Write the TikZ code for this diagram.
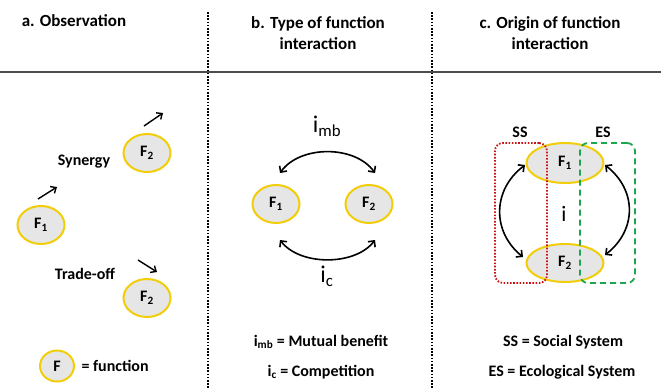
\documentclass[tikz,border=0pt]{standalone}
\usepackage{fontspec}
\setmainfont{Carlito}
\usetikzlibrary{shapes.geometric,arrows.meta}
\definecolor{fyellow}{RGB}{242,206,10}
\definecolor{ffill}{RGB}{230,230,230}
\definecolor{ssred}{RGB}{205,20,20}
\definecolor{esgreen}{RGB}{30,165,80}
\tikzset{
  fn/.style={ellipse, draw=fyellow, fill=ffill, line width=2pt, inner sep=0pt,
    minimum width=47pt, minimum height=38pt, font=\fontsize{16}{18}\selectfont\bfseries},
  title/.style={font=\fontsize{17}{21}\selectfont\bfseries, align=center},
  lbl/.style={font=\fontsize{16}{19}\selectfont\bfseries},
  big/.style={font=\fontsize{24}{26}\selectfont},
  sep/.style={line width=1.7pt, dash pattern=on 1.6pt off 1.6pt},
  arr/.style={line width=1.4pt, -{Straight Barb[length=4.5pt,width=8pt]}},
  darr/.style={line width=1.6pt, {Straight Barb[length=4.5pt,width=9pt]}-{Straight Barb[length=4.5pt,width=9pt]}},
  sysbox/.style={rounded corners=8pt, line width=1.8pt, minimum width=52pt, minimum height=140pt, inner sep=0pt}
}
\begin{document}
\begin{tikzpicture}[x=1pt,y=-1pt]
\useasboundingbox (0,0) rectangle (661,389);
% headers
\node[title] (ta) at (74,21) {a. Observation};
\node[title] (tb) at (318,33) {b. Type of function\\interaction};
\node[title] (tc) at (550,33) {c. Origin of function\\interaction};
\draw[line width=1.2pt, black!70] (0,72) coordinate (hl) -- (661,72) coordinate (hr);
\draw[sep] (208,12) coordinate (s1t) -- (208,389) coordinate (s1b);
\draw[sep] (432,12) coordinate (s2t) -- (432,389) coordinate (s2b);
% panel a
\node[fn] (aF2t) at (147,153) {F\textsubscript{2}};
\node[fn] (aF1) at (41,225) {F\textsubscript{1}};
\node[fn] (aF2b) at (147,298) {F\textsubscript{2}};
\node[lbl] (syn) at (84,162) {Synergy};
\node[lbl] (tro) at (85,274) {Trade-off};
\coordinate (a1s) at (144,126); \coordinate (a1e) at (163,113);
\coordinate (a2s) at (38,199); \coordinate (a2e) at (57,187);
\coordinate (a3s) at (138,260); \coordinate (a3e) at (157,272);
\draw[arr] (a1s) -- (a1e);
\draw[arr] (a2s) -- (a2e);
\draw[arr] (a3s) -- (a3e);
\node[fn, minimum width=34pt, minimum height=31pt] (aF) at (57,366) {F};
\node[lbl, anchor=west] (afun) at (78,366) {= function};
% panel b
\node[fn] (bF1) at (276,204) {F\textsubscript{1}};
\node[fn] (bF2) at (369,204) {F\textsubscript{2}};
\node[big] (imb) at (327,126) {i\textsubscript{mb}};
\node[big] (ic) at (327,276) {i\textsubscript{c}};
\coordinate (bt1) at (280,173); \coordinate (bt2) at (375,173);
\coordinate (bb1) at (280,240); \coordinate (bb2) at (375,240);
\draw[darr] (bt1) .. controls (300,145) and (355,145) .. (bt2);
\draw[darr] (bb1) .. controls (300,266) and (355,266) .. (bb2);
\node[lbl] (lmb) at (321,342) {i\textsubscript{mb} = Mutual benefit};
\node[lbl] (lc) at (321,372) {i\textsubscript{c} = Competition};
% panel c
\node[fn, minimum width=77pt, minimum height=40pt] (cF1) at (565,163) {F\textsubscript{1}};
\node[fn, minimum width=77pt, minimum height=38pt] (cF2) at (565,263) {F\textsubscript{2}};
\node[sysbox, draw=ssred, dash pattern=on 1.6pt off 1.6pt] (ssbox) at (521,213) {};
\node[sysbox, draw=esgreen, dash pattern=on 6pt off 4pt, minimum width=55pt] (esbox) at (607.5,213) {};
\node[lbl] (sslbl) at (520,132) {SS};
\node[lbl] (eslbl) at (603,132) {ES};
\node[font=\fontsize{22}{24}\selectfont] (ci) at (564,214) {i};
\coordinate (cl1) at (525,165); \coordinate (cl2) at (523,257);
\coordinate (cr1) at (605,165); \coordinate (cr2) at (605,255);
\draw[darr] (cl1) .. controls (492,190) and (492,232) .. (cl2);
\draw[darr] (cr1) .. controls (637,190) and (637,230) .. (cr2);
\node[lbl] (lss) at (563,342) {SS = Social System};
\node[lbl] (les) at (562,372) {ES = Ecological System};
\end{tikzpicture}
\end{document}
